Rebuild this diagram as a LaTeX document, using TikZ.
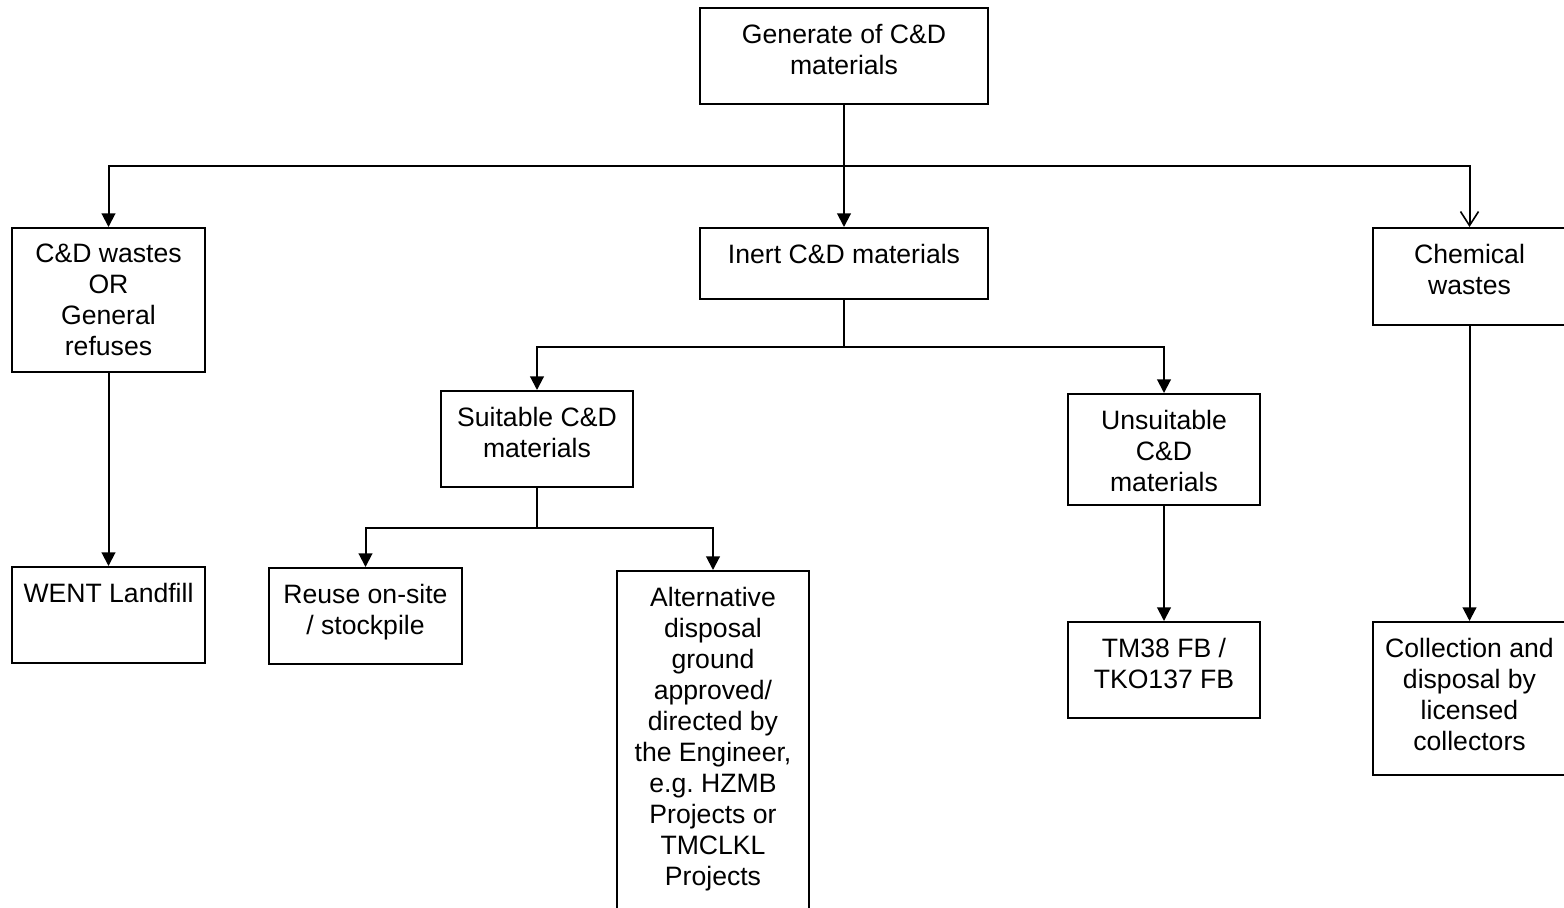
\documentclass[tikz,border=0pt]{standalone}
\usepackage{fontspec}
\setmainfont{Liberation Sans}
\usetikzlibrary{arrows.meta}
\frenchspacing
\begin{document}
\begin{tikzpicture}[x=0.5pt,y=-0.5pt,
  box/.style={draw, line width=1pt, inner sep=0pt},
  txt/.style={anchor=north, align=center, inner sep=0pt, font=\fontsize{13.3}{15.5}\selectfont},
  ln/.style={line width=1pt},
  arr/.style={line width=1pt, -{Triangle[length=6.8pt,width=6.8pt]}},
  oarr/.style={line width=1pt, -{Straight Barb[length=7pt,width=9pt,line width=0.8pt]}}]
\useasboundingbox (0,0) rectangle (1564,907);
\clip (0,0) rectangle (1564,907);
% boxes
\node[box, minimum width=144pt, minimum height=48pt] (top) at (844,56) {};
\node[box, minimum width=144pt, minimum height=35.5pt] (inert) at (844,263.5) {};
\node[box, minimum width=96.5pt, minimum height=72pt] (cdw) at (108.5,300) {};
\node[box, minimum width=96.5pt, minimum height=48.5pt] (chem) at (1469.5,276.5) {};
\node[box, minimum width=96pt, minimum height=48pt] (suit) at (537,439) {};
\node[box, minimum width=96pt, minimum height=55.5pt] (unsuit) at (1164,449.5) {};
\node[box, minimum width=96.5pt, minimum height=48pt] (went) at (108.5,615) {};
\node[box, minimum width=96.5pt, minimum height=48pt] (reuse) at (365.5,616) {};
\node[box, minimum width=96pt, minimum height=169.5pt] (alt) at (713,740.5) {};
\node[box, minimum width=96pt, minimum height=48pt] (tm) at (1164,670) {};
\node[box, minimum width=96.5pt, minimum height=76.5pt] (coll) at (1469.5,698.5) {};
% texts
\node[txt] (ttop) at ([yshift=-8.5pt]top.north) {Generate of C\&D\\materials};
\node[txt] (tinert) at ([yshift=-8.5pt]inert.north) {Inert C\&D materials};
\node[txt] (tcdw) at ([yshift=-8.5pt]cdw.north) {C\&D wastes\\OR\\General\\refuses};
\node[txt] (tchem) at ([yshift=-8.5pt]chem.north) {Chemical\\wastes};
\node[txt] (tsuit) at ([yshift=-8.5pt]suit.north) {Suitable C\&D\\materials};
\node[txt] (tunsuit) at ([yshift=-8.5pt]unsuit.north) {Unsuitable\\C\&D\\materials};
\node[txt] (twent) at ([yshift=-8.5pt]went.north) {WENT Landfill};
\node[txt] (treuse) at ([yshift=-8.5pt]reuse.north) {Reuse on-site\\/ stockpile};
\node[txt] (talt) at ([yshift=-8.5pt]alt.north) {Alternative\\disposal\\ground\\approved/\\directed by\\the Engineer,\\e.g. HZMB\\Projects or\\TMCLKL\\Projects};
\node[txt] (ttm) at ([yshift=-8.5pt]tm.north) {TM38 FB /\\TKO137 FB};
\node[txt] (tcoll) at ([yshift=-8.5pt]coll.north) {Collection and\\disposal by\\licensed\\collectors};
% connectors
\coordinate (j1) at (844,166);
\coordinate (j2) at (844,347);
\coordinate (j3) at (537,528);
\draw[arr] (top.south) -- (inert.north);
\draw[arr] (j1) -| (cdw.north);
\draw[oarr] (j1) -| (chem.north);
\draw[ln] (inert.south) -- (j2);
\draw[arr] (j2) -| (suit.north);
\draw[arr] (j2) -| (unsuit.north);
\draw[ln] (suit.south) -- (j3);
\draw[arr] (j3) -| (reuse.north);
\draw[arr] (j3) -| (alt.north);
\draw[arr] (cdw.south) -- (went.north);
\draw[arr] (unsuit.south) -- (tm.north);
\draw[arr] (chem.south) -- (coll.north);
\end{tikzpicture}
\end{document}
